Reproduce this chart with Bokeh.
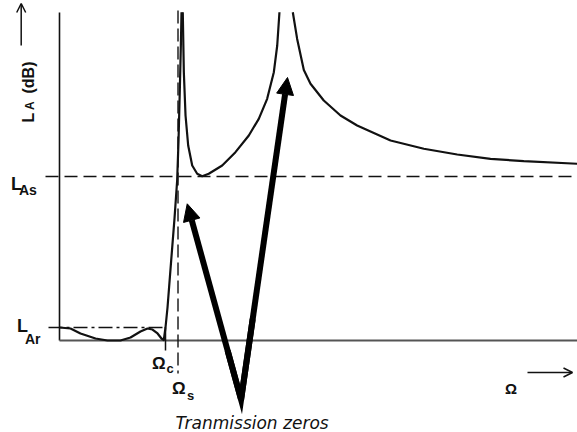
import numpy as np
from bokeh.plotting import figure
from bokeh.models import Range1d, Arrow, NormalHead, OpenHead
from bokeh.core.properties import value
from bokeh.embed import file_html
from bokeh.resources import INLINE

# ---------------- data (Omega normalised to Omega_c = 1, L_A in dB) ----------------
omega_c = 1.0
omega_s = 1.118
L_Ar = 3.17
L_As = 40.0
L_top = 80.0
omega_max = 4.887

# passband ripple + steep rise to first transmission zero
branch1_x = [0.000, 0.104, 0.198, 0.340, 0.453, 0.575, 0.670, 0.764, 0.830, 0.877,
             0.925, 0.962, 0.984, 1.000, 1.019, 1.052, 1.085, 1.110, 1.123, 1.135,
             1.146, 1.151]
branch1_y = [3.17, 2.93, 1.71, 0.49, 0.00, 0.00, 0.73, 2.20, 2.93, 2.68,
             1.71, 0.49, 0.12, 3.17, 8.05, 19.0, 29.8, 39.0, 48.8, 61.0,
             73.2, 80.07]

# between the two transmission zeros
branch2_x = [1.163, 1.173, 1.189, 1.214, 1.252, 1.299, 1.346, 1.408, 1.535, 1.660,
             1.786, 1.880, 1.959, 2.022, 2.054, 2.075]
branch2_y = [80.07, 65.44, 54.88, 47.56, 42.68, 40.66, 40.07, 40.66, 42.68, 45.93,
             50.00, 54.07, 58.95, 65.44, 71.95, 80.07]

# after the second transmission zero
branch3_x = [2.201, 2.242, 2.305, 2.368, 2.493, 2.651, 2.808, 3.123, 3.437, 3.752,
             4.066, 4.380, 4.887]
branch3_y = [80.07, 73.56, 66.0, 62.61, 58.54, 54.88, 52.44, 48.78, 46.76, 45.37,
             44.32, 43.73, 43.10]

# pointer arrows to the transmission zeros
arrow_vertex_x, arrow_vertex_y = 1.713, -14.4
arrow_tips_x = [1.205, 2.151]
arrow_tips_y = [33.34, 64.15]

# ---------------- layout helpers (pixel -> data) ----------------
W, H = 577, 432
OX, OY = 59.0, 340.0          # pixel position of the origin
SX, SY = 106.0, 4.1           # pixels per unit of Omega / per dB


def X(px):
    return (px - OX) / SX


def Y(py):
    return (OY - py) / SY


p = figure(width=W, height=H, output_backend="svg", toolbar_location=None,
           x_range=Range1d(X(0), X(W)), y_range=Range1d(Y(H), Y(0)),
           min_border=0)
p.axis.visible = False
p.grid.visible = False
p.outline_line_color = None
p.background_fill_color = "white"
p.border_fill_color = "white"

ink = "#111111"

# axes
p.line([0, 0], [0, Y(12)], line_color=ink, line_width=1.6)
p.line([0, omega_max], [0, 0], line_color="#555555", line_width=1.8)

# reference levels
p.line([X(45), omega_max], [L_As, L_As], line_color=ink, line_width=1.4, line_dash="13 6")
p.line([X(48), omega_c], [L_Ar, L_Ar], line_color=ink, line_width=1.4, line_dash="14 4 3 4")

# Omega_c tick and Omega_s dashed line
p.line([omega_c, omega_c], [L_Ar, Y(350)], line_color=ink, line_width=1.5)
p.line([omega_s, omega_s], [Y(10), Y(373)], line_color=ink, line_width=1.4, line_dash="13 5")

# attenuation curve
for bx, by in ((branch1_x, branch1_y), (branch2_x, branch2_y), (branch3_x, branch3_y)):
    p.line(bx, by, line_color=ink, line_width=2.2, line_join="round")

# big pointer arrows (V shape)
for tx, ty in zip(arrow_tips_x, arrow_tips_y):
    p.add_layout(Arrow(x_start=arrow_vertex_x, y_start=arrow_vertex_y, x_end=tx, y_end=ty,
                       line_width=6, line_color="black",
                       end=NormalHead(size=17, fill_color="black", line_color="black",
                                      line_width=1)))
f = 0.25
vx = [arrow_vertex_x + f * (arrow_tips_x[0] - arrow_vertex_x), arrow_vertex_x,
      arrow_vertex_x + f * (arrow_tips_x[1] - arrow_vertex_x)]
vy = [arrow_vertex_y + f * (arrow_tips_y[0] - arrow_vertex_y), arrow_vertex_y,
      arrow_vertex_y + f * (arrow_tips_y[1] - arrow_vertex_y)]
p.line(vx, vy, line_color="black", line_width=6, line_join="miter")

# axis direction arrows
p.add_layout(Arrow(x_start=X(20.7), y_start=Y(45), x_end=X(20.7), y_end=Y(3),
                   line_width=1.5, line_color=ink,
                   end=OpenHead(size=9, line_width=1.5, line_color=ink)))
p.add_layout(Arrow(x_start=X(527), y_start=Y(372), x_end=X(572), y_end=Y(372),
                   line_width=1.5, line_color=ink,
                   end=OpenHead(size=9, line_width=1.5, line_color=ink)))

sans = value("Liberation Sans")


def label(txt, px, py, size, angle=0.0, style="bold", font=sans, align="left"):
    p.text(x=[X(px)], y=[Y(py)], text=[txt], text_font=font, text_font_size=f"{size}px",
           text_font_style=style, text_color=ink, text_align=align,
           text_baseline="alphabetic", angle=angle)


# L_As, L_Ar
label("L", 10.5, 183, 18)
label("As", 18.5, 189, 14)
label("L", 16.5, 325, 18)
label("Ar", 24.5, 338, 14)

# Omega_c, Omega_s, Omega
label("Ω", 151.5, 363, 17)
label("c", 166, 368, 13)
label("Ω", 171.5, 388, 17)
label("s", 186.5, 395, 13)
label("Ω", 504.5, 388, 15)

# rotated y label  L_A (dB)
label("L", 27.5, 122, 16, angle=np.pi / 2)
label("A", 29.0, 109.5, 12, angle=np.pi / 2)
label("(dB)", 27.5, 93, 16, angle=np.pi / 2)

# annotation
label("Tranmission zeros", 175, 422, 17, style="italic", font=value("DejaVu Sans"))

open("out.html", "w").write(file_html(p, INLINE))
